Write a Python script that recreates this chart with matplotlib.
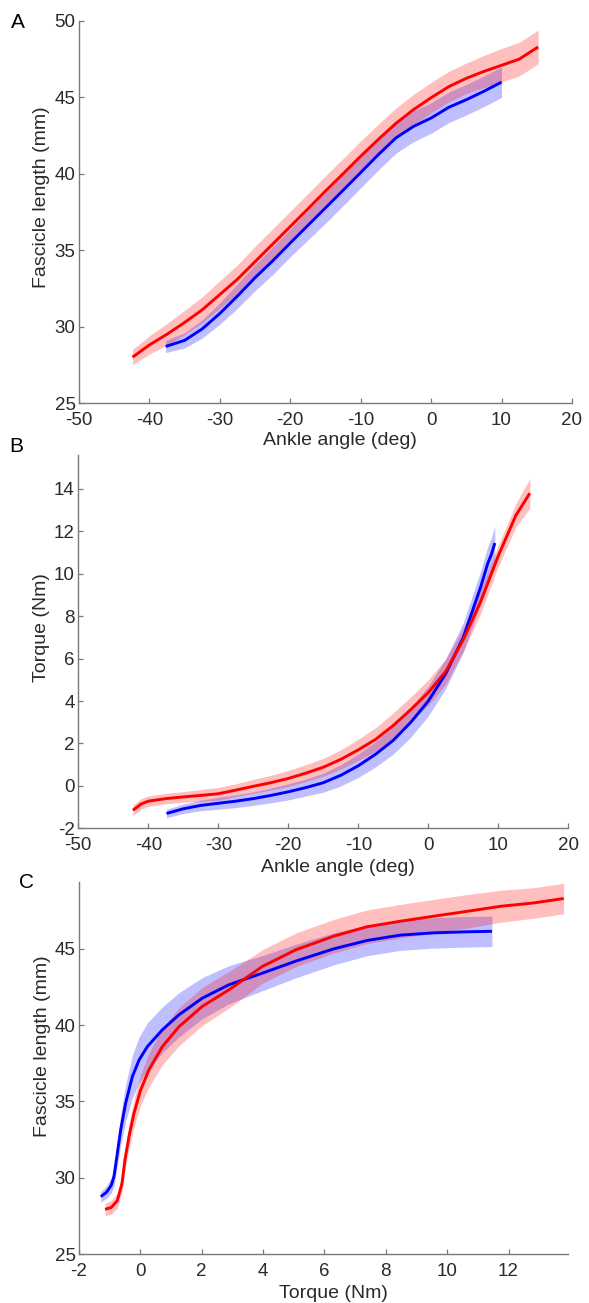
import numpy as np
import matplotlib
matplotlib.use("Agg")
import matplotlib.pyplot as plt

plt.rcParams['font.family'] = ['Liberation Sans', 'DejaVu Sans']
plt.rcParams['axes.unicode_minus'] = False

# panel A: ankle angle (deg) vs fascicle length (mm)
angleA_red = [-42.4, -40, -37.5, -35, -32.5, -30, -27.5, -25, -22.5, -20, -17.5, -15, -12.5,
              -10, -7.5, -5, -2.5, 0, 2.5, 5, 7.5, 10, 12.5, 15.2]
lenA_red = [28.0, 28.8, 29.5, 30.27, 31.1, 32.1, 33.1, 34.25, 35.4, 36.55, 37.7, 38.87, 40.0,
            41.15, 42.25, 43.3, 44.2, 44.98, 45.7, 46.25, 46.7, 47.1, 47.5, 48.3]
sdA_red = [0.5, 0.6, 0.7, 0.8, 0.85, 0.9, 0.95, 1.0, 1.0, 1.0, 1.0, 1.0, 1.0,
           1.0, 1.0, 1.0, 1.0, 1.0, 1.0, 1.0, 1.05, 1.1, 1.1, 1.1]

angleA_blue = [-37.7, -35, -32.5, -30, -27.5, -25, -22.5, -20, -17.5, -15, -12.5, -10,
               -7.5, -5, -2.5, 0, 2.5, 5, 7.5, 10]
lenA_blue = [28.7, 29.1, 29.85, 30.86, 32.0, 33.2, 34.3, 35.47, 36.62, 37.77, 38.92, 40.08,
             41.25, 42.35, 43.1, 43.65, 44.35, 44.85, 45.4, 46.0]
sdA_blue = [0.4, 0.5, 0.6, 0.7, 0.8, 0.85, 0.9, 0.9, 0.95, 1.0, 1.0, 1.0,
            1.0, 1.0, 1.0, 1.0, 1.0, 1.0, 1.0, 1.0]

# panel B: ankle angle (deg) vs torque (Nm)
angleB_red = [-42.2, -41, -40, -37.5, -35, -32.5, -30, -27.5, -25, -22.5, -20, -17.5, -15,
              -12.5, -10, -7.5, -5, -2.5, 0, 2.5, 5, 7.5, 10, 12.5, 14.5]
torqueB_red = [-1.15, -0.85, -0.72, -0.6, -0.52, -0.45, -0.37, -0.2, -0.02, 0.15, 0.35, 0.6, 0.88,
               1.25, 1.7, 2.2, 2.85, 3.6, 4.4, 5.4, 6.9, 8.7, 10.85, 12.75, 13.8]
sdB_red = [0.25, 0.25, 0.25, 0.25, 0.25, 0.28, 0.3, 0.3, 0.33, 0.35, 0.38, 0.4, 0.42,
           0.45, 0.5, 0.55, 0.6, 0.6, 0.6, 0.6, 0.55, 0.55, 0.5, 0.55, 0.7]

angleB_blue = [-37.4, -35, -32.5, -30, -27.5, -25, -22.5, -20, -17.5, -15, -12.5, -10,
               -7.5, -5, -2.5, 0, 2.5, 5, 7.5, 8.5, 9.0, 9.5]
torqueB_blue = [-1.3, -1.08, -0.92, -0.82, -0.72, -0.6, -0.45, -0.28, -0.08, 0.15, 0.5, 0.95,
                1.5, 2.15, 3.0, 4.0, 5.3, 7.0, 9.4, 10.5, 10.9, 11.45]
sdB_blue = [0.2, 0.22, 0.25, 0.28, 0.3, 0.32, 0.35, 0.38, 0.4, 0.45, 0.5, 0.55,
            0.6, 0.65, 0.7, 0.7, 0.7, 0.7, 0.75, 0.8, 0.8, 0.8]

# panel C: torque (Nm) vs fascicle length (mm)
torqueC_red = [-1.15, -0.95, -0.75, -0.6, -0.5, -0.37, -0.21, 0.0, 0.28, 0.72, 1.26, 2.02,
               2.89, 3.44, 3.98, 5.07, 6.3, 7.39, 8.47, 9.56, 10.65, 11.74, 12.82, 13.8]
lenC_red = [27.93, 28.05, 28.5, 29.6, 31.2, 32.7, 34.2, 35.7, 37.07, 38.6, 39.9, 41.23,
            42.32, 43.09, 43.85, 44.94, 45.83, 46.45, 46.81, 47.14, 47.46, 47.79, 48.01, 48.3]
sdC_red = [0.4, 0.45, 0.5, 0.6, 0.7, 0.8, 0.9, 1.0, 1.1, 1.2, 1.25, 1.25,
           1.2, 1.15, 1.1, 1.1, 1.1, 1.1, 1.1, 1.1, 1.1, 1.05, 1.0, 1.0]

torqueC_blue = [-1.29, -1.1, -0.95, -0.86, -0.75, -0.64, -0.48, -0.26, -0.04, 0.23, 0.72, 1.26,
                2.02, 2.89, 3.98, 5.07, 6.3, 7.39, 8.47, 9.56, 10.65, 11.46]
lenC_blue = [28.76, 29.05, 29.5, 30.07, 31.6, 33.14, 34.88, 36.63, 37.72, 38.6, 39.7, 40.68,
             41.77, 42.65, 43.41, 44.2, 45.0, 45.55, 45.9, 46.05, 46.12, 46.15]
sdC_blue = [0.35, 0.4, 0.5, 0.6, 0.8, 1.0, 1.2, 1.4, 1.5, 1.55, 1.5, 1.45,
            1.35, 1.25, 1.15, 1.1, 1.05, 1.0, 1.0, 1.0, 1.0, 1.0]

GREY = '#7a7a7a'
TXT = '#2a2a2a'


def band(ax, x, y, sd, color):
    x = np.array(x)
    y = np.array(y)
    sd = np.array(sd)
    ax.fill_between(x, y - sd, y + sd, color=color, alpha=0.25, linewidth=0)
    ax.plot(x, y, color=color, linewidth=2.1, solid_capstyle='butt')


def style(ax):
    for s in ['top', 'right']:
        ax.spines[s].set_visible(False)
    for s in ['left', 'bottom']:
        ax.spines[s].set_color(GREY)
        ax.spines[s].set_linewidth(1.0)
    ax.tick_params(direction='in', length=3.5, width=0.9, color=GREY,
                   labelsize=13.5, labelcolor=TXT)
    ax.tick_params(axis='x', pad=6.5)
    ax.tick_params(axis='y', pad=2.5)


fig = plt.figure(figsize=(5.89, 13.03), dpi=100)

# A
axA = fig.add_axes([0.1341, 0.6907, 0.8370, 0.2932])
band(axA, angleA_blue, lenA_blue, sdA_blue, 'blue')
band(axA, angleA_red, lenA_red, sdA_red, 'red')
axA.set_xlim(-50, 20)
axA.set_ylim(25, 50)
axA.set_xticks(np.arange(-50, 21, 10))
axA.set_yticks(np.arange(25, 51, 5))
style(axA)
axA.set_xlabel('Ankle angle (deg)', fontsize=14, color=TXT)
axA.set_ylabel('Fascicle length (mm)', fontsize=14, color=TXT)
axA.xaxis.set_label_coords(0.529, -0.077)
axA.yaxis.set_label_coords(-0.059, 0.540)

# B
axB = fig.add_axes([0.1329, 0.3643, 0.8320, 0.2865])
band(axB, angleB_blue, torqueB_blue, sdB_blue, 'blue')
band(axB, angleB_red, torqueB_red, sdB_red, 'red')
axB.set_xlim(-50, 20)
axB.set_ylim(-2, 15.6)
axB.set_xticks(np.arange(-50, 21, 10))
axB.set_yticks(np.arange(-2, 15, 2))
style(axB)
axB.set_xlabel('Ankle angle (deg)', fontsize=14, color=TXT)
axB.set_ylabel('Torque (Nm)', fontsize=14, color=TXT)
axB.xaxis.set_label_coords(0.529, -0.083)
axB.yaxis.set_label_coords(-0.058, 0.538)

# C
axC = fig.add_axes([0.1341, 0.0376, 0.8308, 0.2857])
band(axC, torqueC_blue, lenC_blue, sdC_blue, 'blue')
band(axC, torqueC_red, lenC_red, sdC_red, 'red')
axC.set_xlim(-2, 13.95)
axC.set_ylim(25, 49.4)
axC.set_xticks(np.arange(-2, 13, 2))
axC.set_yticks(np.arange(25, 46, 5))
style(axC)
axC.set_xlabel('Torque (Nm)', fontsize=14, color=TXT)
axC.set_ylabel('Fascicle length (mm)', fontsize=14, color=TXT)
axC.xaxis.set_label_coords(0.521, -0.082)
axC.yaxis.set_label_coords(-0.058, 0.559)

fig.text(18 / 589, 1 - 22 / 1303, 'A', fontsize=15, ha='center', va='center', color='black')
fig.text(16 / 589, 1 - 447 / 1303, 'B', fontsize=15, ha='center', va='center', color='black')
fig.text(27 / 589, 1 - 883 / 1303, 'C', fontsize=15, ha='center', va='center', color='black')

fig.savefig('out.png', dpi=100)
